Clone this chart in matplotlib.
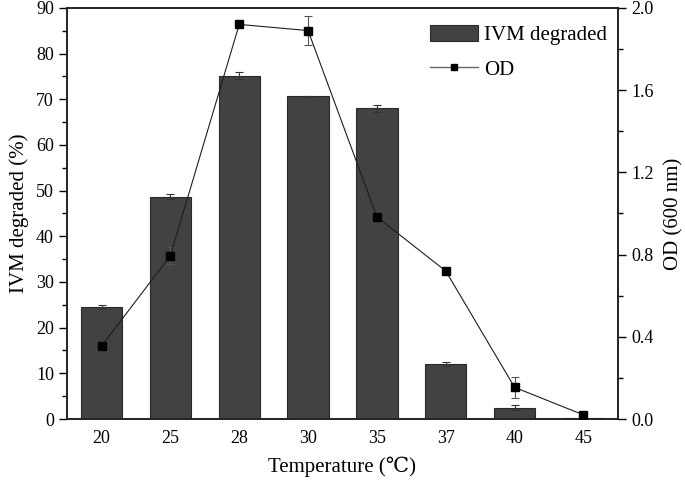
import numpy as np
import matplotlib
matplotlib.use("Agg")
import matplotlib.pyplot as plt
from matplotlib.ticker import MultipleLocator, FormatStrFormatter
from matplotlib.lines import Line2D

# data
temps = ["20", "25", "28", "30", "35", "37", "40", "45"]
ivm_degraded = [24.5, 48.7, 75.2, 70.7, 68.0, 12.0, 2.5, 0.3]
ivm_err = [0.45, 0.5, 0.8, 0.1, 0.7, 0.45, 0.5, 0.1]
od_values = [0.355, 0.795, 1.92, 1.89, 0.983, 0.72, 0.154, 0.02]
od_err = [0.0, 0.04, 0.0, 0.07, 0.0, 0.0, 0.05, 0.0]

plt.rcParams["font.family"] = ["Liberation Serif", "DejaVu Serif"]
plt.rcParams["font.size"] = 13

fig = plt.figure(figsize=(6.85, 4.83), dpi=100)
ax = fig.add_axes([0.098, 0.1325, 0.804, 0.851])
x = np.arange(len(temps))

bars = ax.bar(x, ivm_degraded, width=0.6, color="#424242", edgecolor="#2a2a2a",
              linewidth=0.8, label="IVM degraded", zorder=2)
ax.errorbar(x, ivm_degraded, yerr=ivm_err, fmt="none", ecolor="#333333",
            elinewidth=0.8, capsize=3, capthick=0.8, zorder=3)

ax.set_xlim(-0.5, 7.5)
ax.set_ylim(0, 90)
ax.set_xticks(x)
ax.set_xticklabels(temps)
ax.tick_params(axis="x", length=0, pad=8)
ax.yaxis.set_major_locator(MultipleLocator(10))
ax.yaxis.set_minor_locator(MultipleLocator(5))
ax.tick_params(axis="y", which="major", direction="out", length=6, width=1)
ax.tick_params(axis="y", which="minor", direction="out", length=3.5, width=1)
ax.set_ylabel("IVM degraded (%)", fontsize=15, labelpad=5)
ax.set_xlabel("Temperature (℃)", fontsize=15, labelpad=7)
for s in ax.spines.values():
    s.set_linewidth(1.2)
    s.set_color("#222222")

ax2 = ax.twinx()
ax2.errorbar(x, od_values, yerr=od_err, color="#1e1e1e", lw=0.8,
             marker="s", markersize=6, mfc="black", mec="black",
             ecolor="#555555", elinewidth=0.8, capsize=3, capthick=0.8,
             zorder=4)
ax2.set_ylim(0, 2.0)
ax2.yaxis.set_major_locator(MultipleLocator(0.4))
ax2.yaxis.set_minor_locator(MultipleLocator(0.2))
ax2.yaxis.set_major_formatter(FormatStrFormatter("%.1f"))
ax2.tick_params(axis="y", which="major", direction="out", length=6, width=1)
ax2.tick_params(axis="y", which="minor", direction="out", length=3.5, width=1)
ax2.set_ylabel("OD (600 nm)", fontsize=15, labelpad=8)
for s in ax2.spines.values():
    s.set_linewidth(1.2)
    s.set_color("#222222")

od_handle = Line2D([], [], color="#666666", lw=1.0, marker="s",
                   markersize=4.5, mfc="black", mec="black")
ax2.legend([bars, od_handle], ["IVM degraded", "OD"], loc="upper right",
           bbox_to_anchor=(1.0, 0.985),
           frameon=False, fontsize=15, handlelength=2.3, handleheight=0.85,
           borderaxespad=0.1, labelspacing=0.7, handletextpad=0.3)

fig.savefig("out.png", dpi=100)
